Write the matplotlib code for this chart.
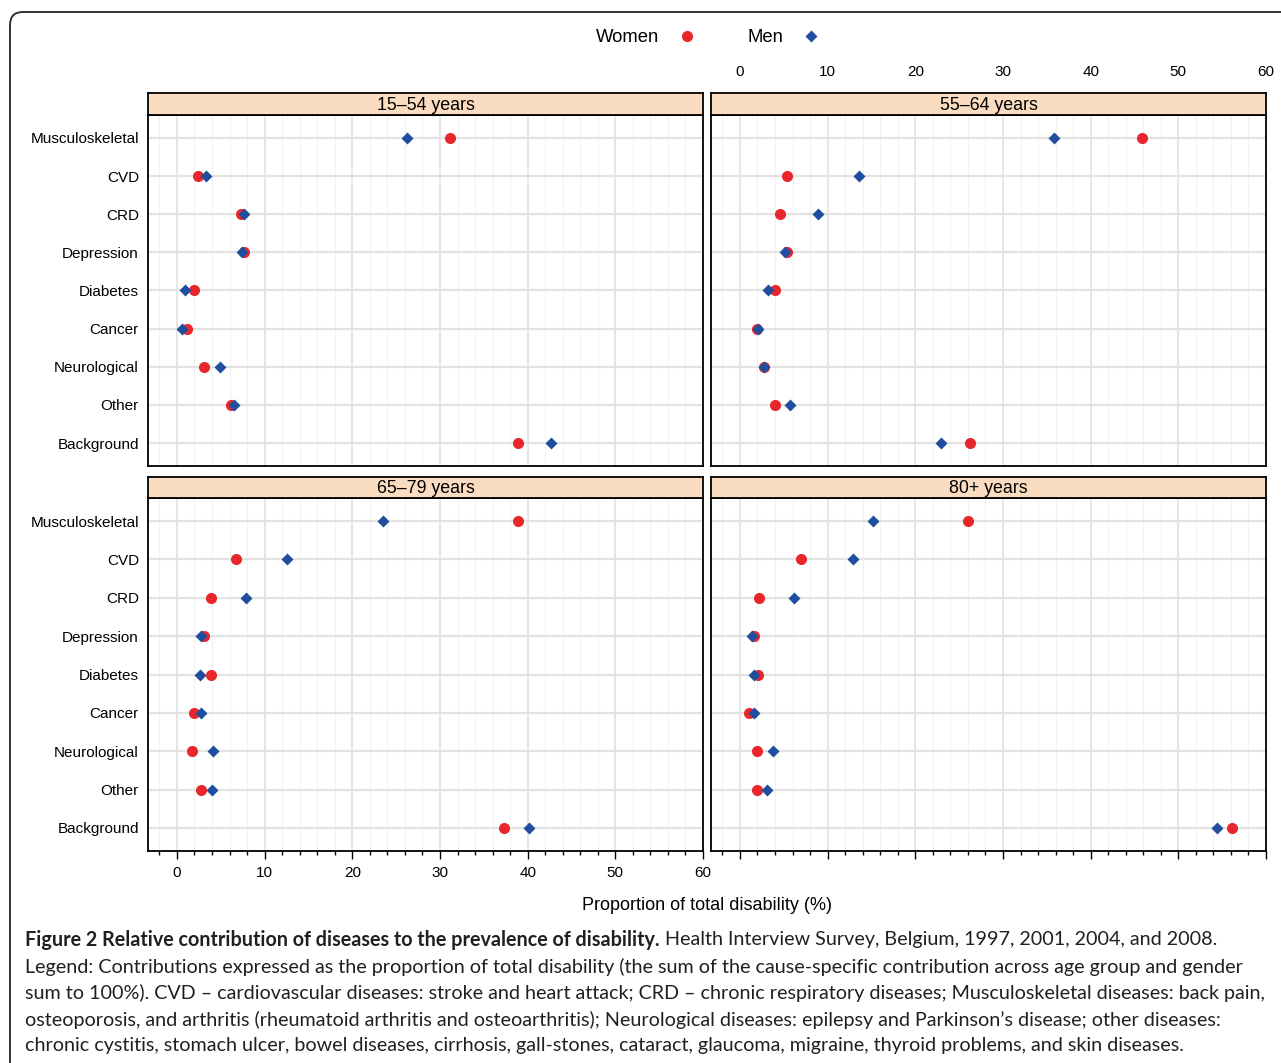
import numpy as np
import matplotlib
matplotlib.use('Agg')
import matplotlib.pyplot as plt
from matplotlib.lines import Line2D
from matplotlib.patches import FancyBboxPatch
from matplotlib.ticker import MultipleLocator

# ---------------------------------------------------------------
# data (proportion of total disability, %), top -> bottom order
# ---------------------------------------------------------------
diseases = ['Musculoskeletal', 'CVD', 'CRD', 'Depression', 'Diabetes',
            'Cancer', 'Neurological', 'Other', 'Background']

age_groups = ['15\u201354 years', '55\u201364 years', '65\u201379 years', '80+ years']

women_15_54 = [31.2, 2.4, 7.3, 7.6, 1.9, 1.2, 3.1, 6.2, 38.9]
men_15_54 = [26.2, 3.3, 7.6, 7.4, 0.9, 0.6, 4.9, 6.5, 42.7]

women_55_64 = [45.9, 5.4, 4.6, 5.4, 4.0, 2.0, 2.7, 4.0, 26.2]
men_55_64 = [35.8, 13.6, 8.9, 5.1, 3.2, 2.1, 2.7, 5.7, 22.9]

women_65_79 = [38.9, 6.7, 3.9, 3.1, 3.9, 1.9, 1.7, 2.8, 37.3]
men_65_79 = [23.5, 12.6, 7.9, 2.8, 2.6, 2.8, 4.1, 4.0, 40.1]

women_80 = [26.0, 7.0, 2.2, 1.6, 2.1, 1.0, 2.0, 2.0, 56.1]
men_80 = [15.2, 12.9, 6.2, 1.4, 1.6, 1.6, 3.8, 3.1, 54.4]

women_all = [women_15_54, women_55_64, women_65_79, women_80]
men_all = [men_15_54, men_55_64, men_65_79, men_80]

# ---------------------------------------------------------------
# style
# ---------------------------------------------------------------
plt.rcParams['font.family'] = ['Liberation Sans', 'DejaVu Sans']
RED = '#E8262B'
BLUE = '#1F4E9F'
STRIP = '#FADCC0'

W, H = 1281, 1063
fig = plt.figure(figsize=(W / 100, H / 100), dpi=100)

# outer rounded frame (runs off right and bottom edge)
frame = FancyBboxPatch((0.10, -1.0), 20, 10.51 + 1.0,
                       boxstyle='round,pad=0,rounding_size=0.13',
                       transform=fig.dpi_scale_trans, fill=False,
                       edgecolor='#333333', linewidth=1.4)
fig.patches.append(frame)

col_x = [148, 711]
col_w = 555
rows = [(93, 115, 466), (477, 498, 851)]   # strip top, panel top, panel bottom

xlim = (-3.3, 60)
ypos = np.arange(len(diseases))[::-1]

for k in range(4):
    r, c = divmod(k, 2)
    st, pt, pb = rows[r]
    left = col_x[c] / W
    width = col_w / W

    ax = fig.add_axes([left, 1 - pb / H, width, (pb - pt) / H])
    sax = fig.add_axes([left, 1 - pt / H, width, (pt - st) / H])

    # grid
    for v in np.arange(-2, 61, 2):
        major = (v % 10 == 0)
        ax.axvline(v, color='#E2E2E2' if major else '#F1F1F1',
                   lw=1.2 if major else 0.8, zorder=0)
    for y in ypos:
        ax.axhline(y, color='#E3E3E3', lw=1.6, zorder=0)

    ax.plot(women_all[k], ypos, 'o', color=RED, ms=8, mec='none', zorder=3)
    ax.plot(men_all[k], ypos, 'D', color=BLUE, ms=6, mec='none', zorder=4)

    ax.set_xlim(*xlim)
    ax.set_ylim(-0.6, len(diseases) - 0.4)
    ax.set_yticks(ypos)
    if c == 0:
        ax.set_yticklabels(diseases, fontsize=11)
        ax.tick_params(axis='y', length=0, pad=6.5)
    else:
        ax.tick_params(axis='y', length=0, labelleft=False)

    ax.xaxis.set_major_locator(MultipleLocator(10))
    ax.xaxis.set_minor_locator(MultipleLocator(2))
    if r == 1:
        ax.tick_params(axis='x', which='major', direction='out', length=5.5,
                       width=1, pad=5, labelsize=11)
        ax.tick_params(axis='x', which='minor', direction='out', length=3,
                       width=1)
        if c == 1:
            ax.tick_params(axis='x', which='both', labelbottom=False)
    else:
        ax.tick_params(axis='x', which='both', bottom=False, labelbottom=False)

    for sp in ax.spines.values():
        sp.set_linewidth(1.3)

    # strip
    sax.set_facecolor(STRIP)
    sax.set_xlim(*xlim)
    sax.set_yticks([])
    sax.xaxis.set_major_locator(MultipleLocator(10))
    sax.xaxis.set_minor_locator(MultipleLocator(2))
    sax.tick_params(axis='x', which='both', bottom=False, labelbottom=False,
                    top=False, labeltop=False)
    if r == 0 and c == 1:
        sax.tick_params(axis='x', which='major', labeltop=True, pad=10,
                        labelsize=11, length=0)
    for sp in sax.spines.values():
        sp.set_linewidth(1.3)
    sax.text(0.5, 0.45, age_groups[k], transform=sax.transAxes,
             ha='center', va='center', fontsize=12.8)

# legend at top
handles = [Line2D([], [], ls='none', marker='o', color=RED, ms=8, mec='none'),
           Line2D([], [], ls='none', marker='D', color=BLUE, ms=6, mec='none')]
fig.legend(handles, ['Women', 'Men'], loc='center', ncol=2,
           bbox_to_anchor=(708 / W, 1 - 38 / H), frameon=False,
           markerfirst=False, fontsize=13.3, handlelength=1.0,
           handletextpad=1.0, columnspacing=2.8)

# x label
fig.text(707 / W, 1 - 905 / H, 'Proportion of total disability (%)',
         ha='center', va='center', fontsize=13)

# caption
cap_font = ['Lato', 'DejaVu Sans']
cap_size = 14.2
cap_color = '#231F20'
renderer = fig.canvas.get_renderer()
t_bold = fig.text(25 / W, 1 - 940 / H,
                  'Figure 2 Relative contribution of diseases to the prevalence of disability.',
                  ha='left', va='center', fontsize=cap_size, fontweight='bold',
                  family=cap_font, color=cap_color)
bb = t_bold.get_window_extent(renderer)
fig.text((bb.x1 + 5) / W, 1 - 940 / H,
         'Health Interview Survey, Belgium, 1997, 2001, 2004, and 2008.',
         ha='left', va='center', fontsize=cap_size, family=cap_font, color=cap_color)

cap_lines = [
    'Legend: Contributions expressed as the proportion of total disability (the sum of the cause-specific contribution across age group and gender',
    'sum to 100%). CVD \u2013 cardiovascular diseases: stroke and heart attack; CRD \u2013 chronic respiratory diseases; Musculoskeletal diseases: back pain,',
    'osteoporosis, and arthritis (rheumatoid arthritis and osteoarthritis); Neurological diseases: epilepsy and Parkinson\u2019s disease; other diseases:',
    'chronic cystitis, stomach ulcer, bowel diseases, cirrhosis, gall-stones, cataract, glaucoma, migraine, thyroid problems, and skin diseases.',
]
cap_y = [967, 993, 1020, 1046]
for line, yy in zip(cap_lines, cap_y):
    fig.text(25 / W, 1 - yy / H, line, ha='left', va='center',
             fontsize=cap_size, family=cap_font, color=cap_color)

fig.savefig('out.png', dpi=100)
